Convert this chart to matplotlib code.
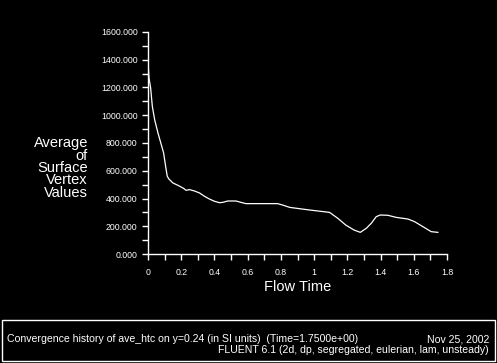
import numpy as np
import matplotlib.pyplot as plt
from matplotlib.patches import Rectangle

plt.rcParams['font.family'] = ['Liberation Sans', 'DejaVu Sans']

# flow time and surface-averaged vertex values
t = [0.002, 0.006, 0.016, 0.026, 0.04, 0.06, 0.08, 0.094, 0.106, 0.116, 0.126,
     0.15, 0.18, 0.21, 0.23, 0.25, 0.28, 0.31, 0.34, 0.37, 0.40, 0.43, 0.45,
     0.48, 0.53, 0.56, 0.59, 0.69, 0.78, 0.81, 0.853, 0.973, 1.093, 1.143,
     1.19, 1.24, 1.278, 1.314, 1.344, 1.374, 1.398, 1.444, 1.494, 1.565,
     1.605, 1.655, 1.705, 1.745]
ave_htc = [1348, 1268, 1196, 1064, 968, 872, 788, 728, 632, 560, 540,
           512, 495, 476, 459, 464, 454, 440, 416, 396, 380, 370, 372,
           382, 382, 372, 363, 363, 363, 353, 336, 317, 300, 257,
           209, 173, 156, 185, 221, 269, 281, 279, 264, 252,
           233, 197, 161, 156]

xticks = [0, 0.2, 0.4, 0.6, 0.8, 1, 1.2, 1.4, 1.6, 1.8]
yticks = [0, 200, 400, 600, 800, 1000, 1200, 1400, 1600]

fig = plt.figure(figsize=(4.97, 3.63), dpi=100, facecolor='black')
ax = fig.add_axes([148/497, 1 - 254/363, 299/497, 222/363])
ax.set_facecolor('black')

ax.plot(t, ave_htc, color='white', lw=0.9)

ax.set_xlim(0, 1.8)
ax.set_ylim(0, 1600)
ax.set_xticks(xticks)
ax.set_xticklabels(['0' if v == 0 else '%g' % v for v in xticks])
ax.set_xticks(np.arange(0, 1.81, 0.1), minor=True)
ax.set_yticks(yticks)
ax.set_yticklabels(['%.3f' % v for v in yticks])
ax.set_yticks(np.arange(0, 1601, 100), minor=True)

for s in ['top', 'right']:
    ax.spines[s].set_visible(False)
for s in ['left', 'bottom']:
    ax.spines[s].set_color('white')
    ax.spines[s].set_linewidth(1.0)
ax.tick_params(which='both', colors='white', labelsize=6.3, length=4, width=1,
               direction='out')
ax.tick_params(axis='x', pad=6)

ax.set_xlabel('Flow Time', color='white', fontsize=10.5, labelpad=2)
fig.text(88/497, 1 - 168/363, 'Average\nof\nSurface\nVertex\nValues',
         color='white', fontsize=10.5, ha='right', va='center',
         multialignment='right', linespacing=0.85)

# title box at the bottom
fig.patches.append(Rectangle((2/497, 1 - 361/363), 493/497, 41/363,
                             transform=fig.transFigure, fill=False,
                             edgecolor='white', lw=1))
fig.text(7/497, 1 - 339/363,
         'Convergence history of ave_htc on y=0.24 (in SI units)  (Time=1.7500e+00)',
         color='white', fontsize=7.6, va='center', ha='left')
fig.text(489/497, 1 - 339/363, 'Nov 25, 2002', color='white', fontsize=7.6,
         va='center', ha='right')
fig.text(489/497, 1 - 350/363,
         'FLUENT 6.1 (2d, dp, segregated, eulerian, lam, unsteady)',
         color='white', fontsize=7.6, va='center', ha='right')

fig.savefig('out.png', dpi=100, facecolor='black')
